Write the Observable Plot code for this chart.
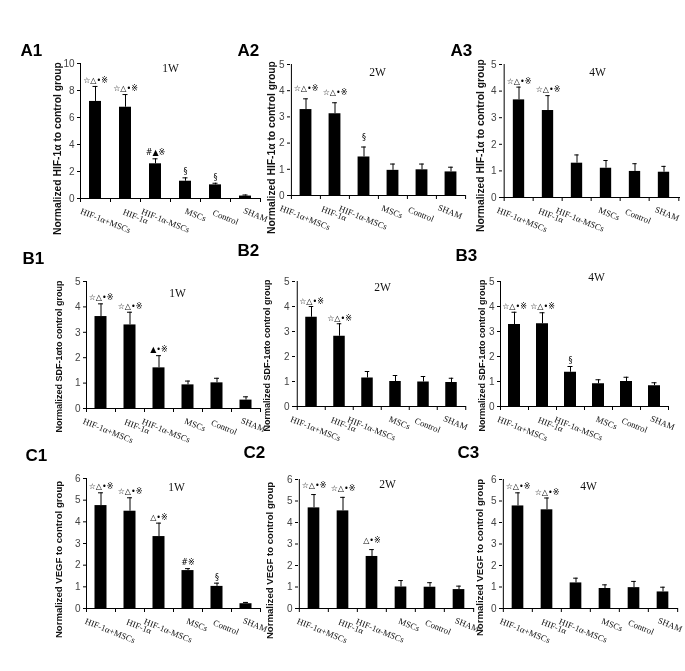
<!DOCTYPE html>
<html>
<head>
<meta charset="utf-8">
<script src="https://cdn.jsdelivr.net/npm/d3@7"></script>
<script src="https://cdn.jsdelivr.net/npm/@observablehq/plot@0.6"></script>
<style>
  html, body { margin: 0; padding: 0; background: #fff; }
  #root { position: relative; width: 685px; height: 671px; background: #fff; overflow: hidden; }
  #root svg { position: absolute; will-change: transform; }
</style>
</head>
<body>
<div id="root"></div>
<script>
// ---------------- DATA ----------------
const categories = ["HIF-1α+MSCs", "HIF-1α", "HIF-1α-MSCs", "MSCs", "Control", "SHAM"];
const panelIds = ["A1", "A2", "A3", "B1", "B2", "B3", "C1", "C2", "C3"];
const weekTitles = ["1W", "2W", "4W", "1W", "2W", "4W", "1W", "2W", "4W"];
const yLabelA = "Normalized HIF-1α to control group";
const yLabelB = "Normalized SDF-1αto control group";
const yLabelC = "Normalized VEGF to control group";
const yTicksA1 = [0, 2, 4, 6, 8, 10];
const yTicks5 = [0, 1, 2, 3, 4, 5];
const yTicks6 = [0, 1, 2, 3, 4, 5, 6];

// means and error-bar tops (upper whisker)
const meanA1 = [7.19, 6.76, 2.57, 1.28, 1.01, 0.18];
const topA1  = [8.30, 7.70, 2.94, 1.53, 1.13, 0.26];
const meanA2 = [3.28, 3.12, 1.47, 0.96, 0.98, 0.90];
const topA2  = [3.69, 3.54, 1.85, 1.20, 1.20, 1.08];
const meanA3 = [3.67, 3.27, 1.29, 1.10, 0.98, 0.95];
const topA3  = [4.15, 3.83, 1.60, 1.39, 1.27, 1.17];
const meanB1 = [3.62, 3.29, 1.60, 0.93, 1.01, 0.33];
const topB1  = [4.12, 3.79, 2.08, 1.08, 1.19, 0.46];
const meanB2 = [3.57, 2.81, 1.14, 1.00, 0.98, 0.96];
const topB2  = [4.00, 3.31, 1.40, 1.24, 1.20, 1.13];
const meanB3 = [3.28, 3.31, 1.37, 0.91, 1.00, 0.83];
const topB3  = [3.77, 3.75, 1.60, 1.07, 1.17, 0.95];
const meanC1 = [4.75, 4.49, 3.32, 1.75, 1.02, 0.22];
const topC1  = [5.34, 5.11, 3.94, 1.84, 1.17, 0.28];
const meanC2 = [4.68, 4.54, 2.42, 1.00, 0.99, 0.88];
const topC2  = [5.30, 5.17, 2.74, 1.30, 1.20, 1.04];
const meanC3 = [4.77, 4.59, 1.19, 0.93, 0.97, 0.77];
const topC3  = [5.38, 5.14, 1.41, 1.10, 1.26, 0.99];

const marksA1 = ["☆△•※", "☆△•※", "#▲※", "§", "§", ""];
const marksA2 = ["☆△•※", "☆△•※", "§", "", "", ""];
const marksA3 = ["☆△•※", "☆△•※", "", "", "", ""];
const marksB1 = ["☆△•※", "☆△•※", "▲•※", "", "", ""];
const marksB2 = ["☆△•※", "☆△•※", "", "", "", ""];
const marksB3 = ["☆△•※", "☆△•※", "§", "", "", ""];
const marksC1 = ["☆△•※", "☆△•※", "△•※", "#※", "§", ""];
const marksC2 = ["☆△•※", "☆△•※", "△•※", "", "", ""];
const marksC3 = ["☆△•※", "☆△•※", "", "", "", ""];

const panelData = [
  {mean: meanA1, top: topA1, sig: marksA1, ylab: yLabelA, ticks: yTicksA1},
  {mean: meanA2, top: topA2, sig: marksA2, ylab: yLabelA, ticks: yTicks5},
  {mean: meanA3, top: topA3, sig: marksA3, ylab: yLabelA, ticks: yTicks5},
  {mean: meanB1, top: topB1, sig: marksB1, ylab: yLabelB, ticks: yTicks5},
  {mean: meanB2, top: topB2, sig: marksB2, ylab: yLabelB, ticks: yTicks5},
  {mean: meanB3, top: topB3, sig: marksB3, ylab: yLabelB, ticks: yTicks5},
  {mean: meanC1, top: topC1, sig: marksC1, ylab: yLabelC, ticks: yTicks6},
  {mean: meanC2, top: topC2, sig: marksC2, ylab: yLabelC, ticks: yTicks6},
  {mean: meanC3, top: topC3, sig: marksC3, ylab: yLabelC, ticks: yTicks6}
];

// ---------------- LAYOUT (pixel positions on the page) ----------------
const layout = [
  {ax: 80,  top: 63,  bot: 198, w: 180, id: [20, 50],  ti: [170, 68],  yl: [57, 148, 10.3], xdx: 10, sdy: 6},
  {ax: 290, top: 64,  bot: 195, w: 175, id: [237, 50], ti: [377, 72],  yl: [271, 147, 10.3], xdx: -1, sdy: 10},
  {ax: 502, top: 64,  bot: 197, w: 178, id: [450, 50], ti: [597, 72],  yl: [480, 145, 10.3], xdx: 3, sdy: 6},
  {ax: 86,  top: 281, bot: 408, w: 174, id: [22, 258], ti: [177, 293], yl: [59, 356, 9], xdx: 7, sdy: 6},
  {ax: 295, top: 281, bot: 406, w: 171, id: [237, 250],ti: [382, 287], yl: [267, 355, 9], xdx: 4, sdy: 5},
  {ax: 500, top: 281, bot: 406, w: 168, id: [455, 255],ti: [596, 277], yl: [482, 355, 9], xdx: 8, sdy: 6},
  {ax: 86,  top: 478, bot: 608, w: 174, id: [25, 455], ti: [176, 487], yl: [58, 559, 9.6], xdx: 9, sdy: 6},
  {ax: 298, top: 479, bot: 608, w: 176, id: [243, 452],ti: [387, 484], yl: [269, 560, 9.6], xdx: 8, sdy: 9},
  {ax: 502, top: 479, bot: 608, w: 176, id: [457, 452],ti: [588, 486], yl: [479, 557, 9.6], xdx: 7, sdy: 6}
];

const ML = 70, MR = 12, MT = 45, MB = 50;
const root = document.getElementById("root");

panelIds.forEach((pid, p) => {
  const d = panelData[p];
  const L = layout[p];
  const plotH = L.bot - L.top;
  const bw = L.w / categories.length;
  const rows = categories.map((c, i) => ({cat: c, mean: d.mean[i], top: d.top[i], sig: d.sig[i]}));
  const barInset = (bw - 12) / 2;
  const capInset = (bw - 5) / 2;

  const xLabelMarks = categories.map(c => {
    const len = c.length * 4.4;
    return Plot.text([c], {
      x: v => v, frameAnchor: "bottom", text: v => v,
      rotate: 22, textAnchor: "middle", lineAnchor: "middle",
      dx: L.xdx, dy: 9 + 0.19 * len + 4,
      fontFamily: "Liberation Serif", fontSize: 8.8, fill: "#111"
    });
  });

  const chart = Plot.plot({
    width: ML + L.w + MR,
    height: MT + plotH + MB,
    marginLeft: ML, marginRight: MR, marginTop: MT, marginBottom: MB,
    x: {type: "band", domain: categories, padding: 0, axis: null},
    y: {domain: [0, d3.max(d.ticks)]},
    style: {background: "transparent", overflow: "visible", fontFamily: "Liberation Sans", maxWidth: "none"},
    marks: [
      Plot.barY(rows, {x: "cat", y: "mean", fill: "black", insetLeft: barInset, insetRight: barInset}),
      Plot.ruleX(rows, {x: "cat", y1: "mean", y2: "top", stroke: "black", strokeWidth: 1}),
      Plot.tickY(rows, {x: "cat", y: "top", stroke: "black", strokeWidth: 1, insetLeft: capInset, insetRight: capInset}),
      Plot.text(rows.filter(r => r.sig), {
        x: "cat", y: "top", text: "sig", dy: -L.sdy, lineAnchor: "middle",
        fontFamily: "DejaVu Sans, Noto Sans CJK SC", fontSize: 8, fill: "#000"
      }),
      // x axis line and boundary ticks
      Plot.ruleY([0], {stroke: "black"}),
      Plot.tickX(categories, {x: v => v, dx: -bw / 2, stroke: "black", insetTop: plotH, insetBottom: -4}),
      Plot.tickX([categories[categories.length - 1]], {x: v => v, dx: bw / 2, stroke: "black", insetTop: plotH, insetBottom: -4}),
      // y axis line
      Plot.tickX([categories[0]], {x: v => v, dx: -bw / 2, stroke: "black"}),
      Plot.axisY({ticks: d.ticks, tickSize: 3, tickPadding: 3, fontSize: 10, fill: "#444", stroke: "black", label: null, tickFormat: v => String(v)}),
      ...xLabelMarks,
      // y axis title
      Plot.text([d.ylab], {
        frameAnchor: "top-left", text: v => v, rotate: -90,
        dx: L.yl[0] - L.ax, dy: L.yl[1] - L.top,
        textAnchor: "middle", lineAnchor: "middle",
        fontWeight: "bold", fontSize: L.yl[2], fontFamily: "Liberation Sans", fill: "#111"
      }),
      // week title
      Plot.text([weekTitles[p]], {
        frameAnchor: "top-left", text: v => v,
        dx: L.ti[0] - L.ax, dy: L.ti[1] - L.top,
        textAnchor: "middle", lineAnchor: "middle",
        fontFamily: "Liberation Serif", fontSize: 11.5, fill: "#111"
      }),
      // panel id
      Plot.text([pid], {
        frameAnchor: "top-left", text: v => v,
        dx: L.id[0] - L.ax, dy: L.id[1] - L.top,
        textAnchor: "start", lineAnchor: "middle",
        fontFamily: "Liberation Sans", fontWeight: "bold", fontSize: 17, fill: "#000"
      })
    ]
  });
  chart.style.left = (L.ax - ML) + "px";
  chart.style.top = (L.top - MT) + "px";
  root.appendChild(chart);
});
</script>
</body>
</html>
